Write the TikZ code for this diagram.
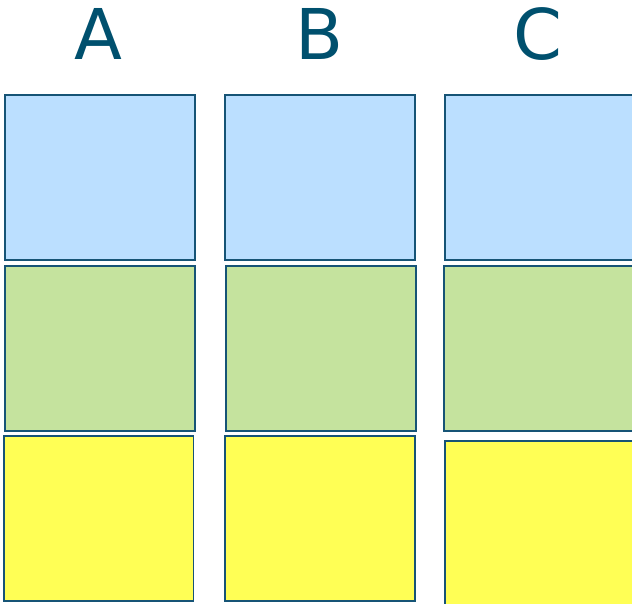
\documentclass[tikz,border=0pt]{standalone}
\usepackage{fontspec}
\setmainfont{DejaVu Sans}
\definecolor{strk}{RGB}{22,84,118}
\definecolor{lbl}{RGB}{0,80,110}
\definecolor{cblue}{RGB}{187,223,255}
\definecolor{cgreen}{RGB}{197,227,158}
\definecolor{cyellow}{RGB}{255,255,85}
\begin{document}
\begin{tikzpicture}[x=1pt,y=-1pt,
  cell/.style={draw=strk,line width=1.4pt},
  lab/.style={anchor=base,text=lbl,font=\fontsize{70}{70}\selectfont,inner sep=0pt}]
\clip (0,0) rectangle (632,603);
\node[lab] (la) at (98,59) {A};
\node[lab] (lb) at (320,59) {B};
\node[lab] (lc) at (538,59) {C};
% column A
\draw[cell,fill=cblue] (5,95) rectangle (195,260);
\draw[cell,fill=cgreen] (5,266) rectangle (195,431);
\draw[cell,fill=cyellow] (4,436) rectangle (193.5,601);
% column B
\draw[cell,fill=cblue] (225,95) rectangle (415,260);
\draw[cell,fill=cgreen] (226,266) rectangle (416,431);
\draw[cell,fill=cyellow] (225,436) rectangle (415,601);
% column C
\draw[cell,fill=cblue] (445,95) rectangle (640,260);
\draw[cell,fill=cgreen] (444,266) rectangle (640,431);
\draw[cell,fill=cyellow] (445,441) rectangle (640,610);
\end{tikzpicture}
\end{document}
